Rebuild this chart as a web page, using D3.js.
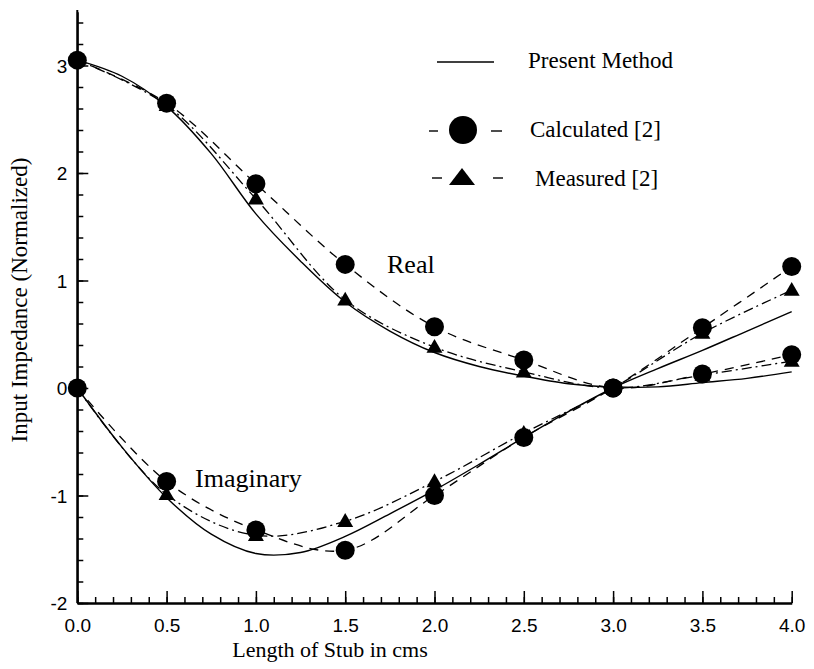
<!DOCTYPE html>
<html>
<head>
<meta charset="utf-8">
<script src="https://cdn.jsdelivr.net/npm/d3@7"></script>
<style>
  html, body { margin: 0; padding: 0; background: #fff; }
  svg { display: block; }
</style>
</head>
<body>
<svg id="chart" width="814" height="669"></svg>
<script>
// ---- data ----
const xPts = [0, 0.5, 1, 1.5, 2, 2.5, 3, 3.5, 4];
const realCalc = [3.05, 2.65, 1.90, 1.15, 0.57, 0.26, 0.0, 0.13, 0.31];
const realMeas = [3.05, 2.63, 1.76, 0.82, 0.38, 0.15, 0.0, 0.12, 0.25];
const imagCalc = [0.0, -0.87, -1.32, -1.51, -1.00, -0.46, 0.0, 0.56, 1.13];
const imagMeas = [0.0, -0.99, -1.37, -1.24, -0.87, -0.42, 0.0, 0.51, 0.91];

const xFine = [0, 0.25, 0.5, 0.75, 1, 1.25, 1.5, 1.75, 2, 2.25, 2.5, 2.75, 3, 3.25, 3.5, 3.75, 4];
const realPresent = [3.05, 2.90, 2.62, 2.18, 1.62, 1.18, 0.80, 0.53, 0.33, 0.20, 0.11, 0.04, 0.01, 0.01, 0.05, 0.09, 0.15];
const imagPresent = [0.0, -0.55, -1.02, -1.36, -1.54, -1.53, -1.38, -1.17, -0.95, -0.71, -0.46, -0.22, 0.0, 0.18, 0.35, 0.53, 0.71];

const xMajor = [0, 0.5, 1, 1.5, 2, 2.5, 3, 3.5, 4];
const yMajor = [-2, -1, 0, 1, 2, 3];

const xTitle = "Length of Stub in cms";
const yTitle = "Input Impedance (Normalized)";
const legendLabels = ["Present Method", "Calculated [2]", "Measured [2]"];

// ---- drawing ----
const svg = d3.select("#chart");
const x = d3.scaleLinear().domain([0, 4]).range([77.3, 791.7]);
const y = d3.scaleLinear().domain([-2, 3.5]).range([603, 11.75]);

const sans = "'Liberation Sans', Arial, Helvetica, sans-serif";
const serif = "'Liberation Serif', 'Times New Roman', Times, serif";

// minor ticks
const xMinor = d3.range(0, 4.0001, 0.1).map(v => +v.toFixed(2));
const yMinor = d3.range(-2, 3.4001, 0.2).map(v => +v.toFixed(2));

const gxMinor = svg.append("g").attr("transform", `translate(0,${y(-2)})`)
  .call(d3.axisBottom(x).tickValues(xMinor).tickSizeInner(-6).tickSizeOuter(0).tickFormat(""));
const gyMinor = svg.append("g").attr("transform", `translate(${x(0)},0)`)
  .call(d3.axisLeft(y).tickValues(yMinor).tickSizeInner(-6).tickSizeOuter(0).tickFormat(""));

const gx = svg.append("g").attr("transform", `translate(0,${y(-2)})`)
  .call(d3.axisBottom(x).tickValues(xMajor).tickSizeInner(-12).tickSizeOuter(0).tickPadding(16).tickFormat(d3.format(".1f")));
const gy = svg.append("g").attr("transform", `translate(${x(0)},0)`)
  .call(d3.axisLeft(y).tickValues(yMajor).tickSizeInner(-11).tickSizeOuter(0).tickPadding(10).tickFormat(d => String(d)));

[gxMinor, gyMinor, gx, gy].forEach(g => {
  g.selectAll("line").attr("stroke", "#000").attr("stroke-width", 1.5);
  g.select(".domain").attr("stroke", "#000").attr("stroke-width", 2);
});
gy.select(".domain").attr("d", `M0,${y(-2)}V10`);
[gx, gy].forEach(g => g.selectAll("text")
  .attr("fill", "#000").style("font-family", sans).style("font-size", "19px"));
gy.selectAll("text").attr("dy", "0.36em");

// axis titles
svg.append("text").attr("x", 330).attr("y", 657).attr("text-anchor", "middle")
  .style("font-family", serif).style("font-size", "22px").text(xTitle);
svg.append("text").attr("transform", `translate(27,300) rotate(-90)`).attr("text-anchor", "middle")
  .style("font-family", serif).style("font-size", "23px").text(yTitle);

// lines
const lineGen = d3.line().x(d => x(d[0])).y(d => y(d[1])).curve(d3.curveCatmullRom.alpha(0.5));
const zipF = (xs, ys) => xs.map((v, i) => [v, ys[i]]);

const styles = {
  present: { dash: null, w: 1.4 },
  calc: { dash: "9,7", w: 1.3 },
  meas: { dash: "10,4,2,4", w: 1.3 }
};
function drawLine(data, st) {
  svg.append("path").datum(data).attr("d", lineGen)
    .attr("fill", "none").attr("stroke", "#000").attr("stroke-width", st.w)
    .attr("stroke-dasharray", st.dash);
}
drawLine(zipF(xFine, realPresent), styles.present);
drawLine(zipF(xFine, imagPresent), styles.present);
drawLine(zipF(xPts, realCalc), styles.calc);
drawLine(zipF(xPts, imagCalc), styles.calc);
drawLine(zipF(xPts, realMeas), styles.meas);
drawLine(zipF(xPts, imagMeas), styles.meas);

// markers
const tri = d3.symbol().type(d3.symbolTriangle).size(110);
function drawTris(data) {
  svg.append("g").selectAll("path").data(data).join("path")
    .attr("d", tri).attr("transform", d => `translate(${x(d[0])},${y(d[1]) + 1})`).attr("fill", "#000");
}
function drawCircles(data) {
  svg.append("g").selectAll("circle").data(data).join("circle")
    .attr("cx", d => x(d[0])).attr("cy", d => y(d[1])).attr("r", 9.5).attr("fill", "#000");
}
drawTris(zipF(xPts, realMeas));
drawTris(zipF(xPts, imagMeas));
drawCircles(zipF(xPts, realCalc));
drawCircles(zipF(xPts, imagCalc));

// curve labels
svg.append("text").attr("x", 387).attr("y", 273).style("font-family", serif).style("font-size", "26px").text("Real");
svg.append("text").attr("x", 195).attr("y", 487).style("font-family", serif).style("font-size", "26px").text("Imaginary");

// legend
const lg = svg.append("g");
lg.append("line").attr("x1", 437).attr("x2", 494).attr("y1", 62).attr("y2", 62).attr("stroke", "#000").attr("stroke-width", 1.4);
lg.append("text").attr("x", 528).attr("y", 68).style("font-family", serif).style("font-size", "23px").text(legendLabels[0]);

[[429, 438], [491, 502]].forEach(s => lg.append("line").attr("x1", s[0]).attr("x2", s[1]).attr("y1", 131).attr("y2", 131).attr("stroke", "#000").attr("stroke-width", 1.4));
lg.append("circle").attr("cx", 463).attr("cy", 130).attr("r", 14).attr("fill", "#000");
lg.append("text").attr("x", 530).attr("y", 137).style("font-family", serif).style("font-size", "23px").text(legendLabels[1]);

[[432, 442], [493, 503]].forEach(s => lg.append("line").attr("x1", s[0]).attr("x2", s[1]).attr("y1", 178).attr("y2", 178).attr("stroke", "#000").attr("stroke-width", 1.4));
lg.append("path").attr("d", "M462,168L475,185L449,185Z").attr("fill", "#000");
lg.append("text").attr("x", 535).attr("y", 186).style("font-family", serif).style("font-size", "23px").text(legendLabels[2]);
</script>
</body>
</html>
